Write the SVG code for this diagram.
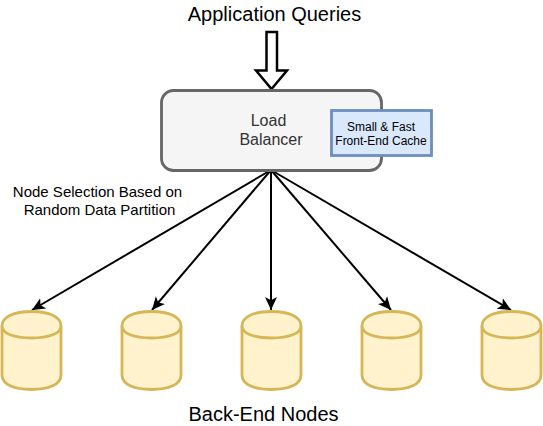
<svg xmlns="http://www.w3.org/2000/svg" width="543" height="426" viewBox="0 0 543 426">
<defs>
<marker id="arr" markerUnits="userSpaceOnUse" markerWidth="15" markerHeight="14" refX="13" refY="7" orient="auto" viewBox="0 0 15 14"><path d="M0 1L13 7L0 13L3.200 7Z" fill="#000"/></marker>
<g id="cyl"><path class="c" d="M2 21C2 11.500 14 6.500 31.500 6.500C49 6.500 61 11.500 61 21V70C61 79.500 49 84.500 31.500 84.500C14 84.500 2 79.500 2 70Z"/><path class="c" d="M2 21C2 28.500 14 33 31.500 33C49 33 61 28.500 61 21" fill="none"/></g>
</defs>
<style>
text{font-family:"Liberation Sans",Arial,sans-serif;text-anchor:middle}
.c{fill:#fff2cc;stroke:#d6b656;stroke-width:2.800}
.l{stroke:#000;stroke-width:2;fill:none;marker-end:url(#arr)}
</style>
<rect width="543" height="426" fill="#fff"/>
<g id="connectors">
<path class="l" d="M271 170L32 310"/>
<path class="l" d="M271 170L152 310"/>
<path class="l" d="M271 170V310"/>
<path class="l" d="M271 170L391 310"/>
<path class="l" d="M271 170L511 310"/>
<path d="M266.500 32H277V70.500H287L271.500 89L256 70.500H266.500Z" fill="#fff" stroke="#000" stroke-width="2.500"/>
</g>
<g id="title"><text x="274.500" y="21" font-size="20">Application Queries</text></g>
<g id="load-balancer">
<rect x="161.500" y="90.500" width="220" height="80" rx="12" fill="#f5f5f5" stroke="#666" stroke-width="2.800"/>
<text x="268.500" y="126" font-size="16" fill="#333">Load</text>
<text x="271" y="145" font-size="16" fill="#333">Balancer</text>
</g>
<g id="cache">
<rect x="331.500" y="110.500" width="100" height="45" fill="#dae8fc" stroke="#6c8ebf" stroke-width="2.800"/>
<text x="381" y="131" font-size="12">Small &amp; Fast</text>
<text x="381" y="145" font-size="12">Front-End Cache</text>
</g>
<g id="partition-label">
<text x="97.500" y="197" font-size="15">Node Selection Based on</text>
<text x="99.500" y="215" font-size="15">Random Data Partition</text>
</g>
<g id="node1"><use href="#cyl" x="0" y="305"/></g>
<g id="node2"><use href="#cyl" x="120" y="305"/></g>
<g id="node3"><use href="#cyl" x="240" y="305"/></g>
<g id="node4"><use href="#cyl" x="360" y="305"/></g>
<g id="node5"><use href="#cyl" x="480" y="305"/></g>
<g id="footer"><text x="263.500" y="421" font-size="20">Back-End Nodes</text></g>
</svg>
